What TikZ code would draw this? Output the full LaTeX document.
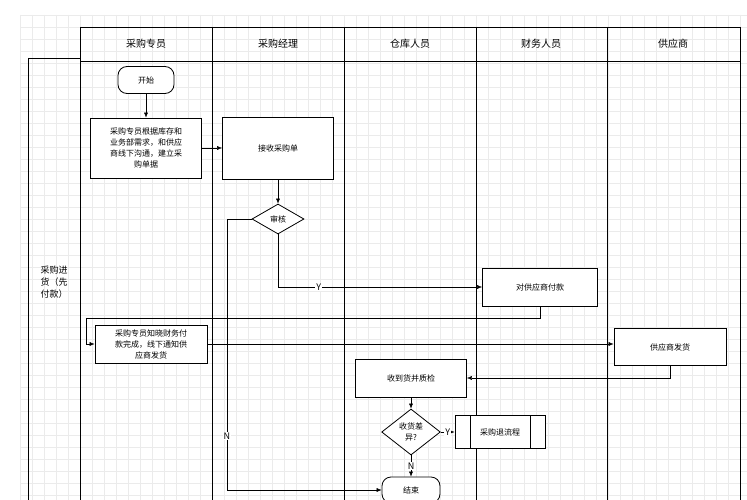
\documentclass[tikz,border=0pt]{standalone}
\usepackage{fontspec}
\setmainfont{Noto Sans CJK SC}
\usetikzlibrary{shapes.geometric,arrows.meta}
\begin{document}
\begin{tikzpicture}[x=1pt,y=-1pt,font=\fontsize{8}{11}\selectfont,
 box/.style={draw,thick,fill=white,align=center,inner sep=2pt},
 term/.style={draw,thick,fill=white,rounded corners=9pt,minimum width=56pt,minimum height=27pt},
 dia/.style={draw,thick,diamond,fill=white,aspect=1.6,inner sep=1pt,align=center},
 arr/.style={-{Latex[length=5pt,width=4pt]},thin},
 lane/.style={thick},
 lbl/.style={fill=white,inner sep=1pt,font=\fontsize{9}{10}\selectfont}]
\useasboundingbox (0,0) rectangle (747,500);
\fill[white] (0,0) rectangle (747,500);
\foreach \i in {0,...,60} \draw[black!8] (20+12*\i,15) -- (20+12*\i,500);
\foreach \i in {0,...,40} \draw[black!8] (20,15+12*\i) -- (747,15+12*\i);
% lanes
\draw[lane] (80,27) rectangle (740,61);
\draw[lane] (28,58) -- (80,58);
\draw[lane] (28,58) -- (28,500);
\foreach \x in {80,212,344,476,607,740} \draw[lane] (\x,27) -- (\x,500);
\node[font=\fontsize{10}{12}\selectfont] (h1) at (146,44) {采购专员};
\node[font=\fontsize{10}{12}\selectfont] (h2) at (278,44) {采购经理};
\node[font=\fontsize{10}{12}\selectfont] (h3) at (410,44) {仓库人员};
\node[font=\fontsize{10}{12}\selectfont] (h4) at (541,44) {财务人员};
\node[font=\fontsize{10}{12}\selectfont] (h5) at (673,44) {供应商};
\node[align=center,font=\fontsize{9}{12}\selectfont] (t) at (54,282) {采购进\\货（先\\付款）};
% nodes
\node[term] (start) at (146,80) {开始};
\node[box,minimum width=111pt,minimum height=60pt] (s1) at (146,148) {采购专员根据库存和\\业务部需求，和供应\\商线下沟通，建立采\\购单据};
\node[box,minimum width=111pt,minimum height=62pt] (recv) at (278,148) {接收采购单};
\node[dia,minimum width=52pt,minimum height=30pt] (aud) at (278,219) {审核};
\node[box,minimum width=115pt,minimum height=38pt] (pay) at (540,287) {对供应商付款};
\node[box,minimum width=112pt,minimum height=38pt] (note) at (151,344) {采购专员知晓财务付\\款完成，线下通知供\\应商发货};
\node[box,minimum width=112pt,minimum height=37pt] (sup) at (670,347) {供应商发货};
\node[box,minimum width=111pt,minimum height=38pt] (chk) at (411,378) {收到货并质检};
\node[dia,minimum width=52pt,minimum height=46pt] (diff) at (411,432) {收货差\\异?};
\node[box,minimum width=90pt,minimum height=33pt] (ret) at (500,432) {采购退流程};
\draw[thick] (470,416) -- (470,449) (530,416) -- (530,449);
\node[term,minimum width=58pt,minimum height=26pt] (end) at (411,490) {结束};
% edges
\draw[arr] (start) -- (s1);
\draw[arr] (s1) -- (recv);
\draw[arr] (recv) -- (aud);
\draw[arr] (aud.south) |- node[lbl,pos=0.6] {Y} (pay.west);
\draw[arr] (aud.west) -- (227,219) |- node[lbl,pos=0.4] {N} (end.west);
\draw[arr] (pay.south) -- (540,318) -| (86,344) -- (note.west);
\draw[arr] (note.east) -- (sup.west |- note.east);
\draw[arr] (sup.south) |- (chk.east);
\draw[arr] (chk) -- (diff);
\draw[arr] (diff.east) -- node[lbl] {Y} (ret.west);
\draw[arr] (diff.south) -- node[lbl] {N} (end.north);
\end{tikzpicture}
\end{document}
